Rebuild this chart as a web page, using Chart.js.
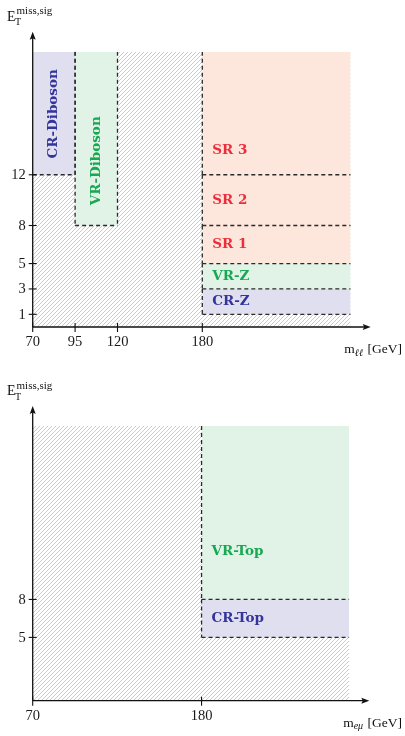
<!DOCTYPE html>
<html><head><meta charset="utf-8">
<script src="https://cdn.jsdelivr.net/npm/chart.js@4.4.0/dist/chart.umd.min.js"></script>
<style>html,body{margin:0;padding:0;background:#fff;width:405px;height:736px;overflow:hidden}canvas{display:block}</style>
</head><body>
<canvas id="c1" width="405" height="374"></canvas>
<canvas id="c2" width="405" height="362"></canvas>
<script>
// ================= DATA =================
const X_MIN = 70;        // start of the mass axis [GeV]
const X_OPEN = 285;      // open-ended right edge of the regions
const Y_OPEN = 21.7;     // open-ended top of the regions

// Panel 1: m_ll vs E_T^miss,sig
const p1XTicks = [70, 95, 120, 180];
const p1YTicks = [1, 3, 5, 8, 12];
const p1Names  = ['CR-Diboson', 'VR-Diboson', 'CR-Z', 'VR-Z', 'SR 1', 'SR 2', 'SR 3'];
const p1Kind   = ['CR', 'VR', 'CR', 'VR', 'SR', 'SR', 'SR'];
const p1XLow   = [70, 95, 180, 180, 180, 180, 180];
const p1XHigh  = [95, 120, X_OPEN, X_OPEN, X_OPEN, X_OPEN, X_OPEN];
const p1YLow   = [12, 8, 1, 3, 5, 8, 12];
const p1YHigh  = [Y_OPEN, Y_OPEN, 3, 5, 8, 12, Y_OPEN];

// Panel 2: m_emu vs E_T^miss,sig
const p2XTicks = [70, 180];
const p2YTicks = [5, 8];
const p2Names  = ['CR-Top', 'VR-Top'];
const p2Kind   = ['CR', 'VR'];
const p2XLow   = [180, 180];
const p2XHigh  = [X_OPEN, X_OPEN];
const p2YLow   = [5, 8];
const p2YHigh  = [8, Y_OPEN];

// ================= LAYOUT / STYLE =================
// label anchors (y value, vertical text?)
const p1LabelY = [16.8, 13.1, 2, 4, 6.5, 10, 13.9];
const p1LabelV = [true, true, false, false, false, false, false];
const p2LabelY = [6.5, 11.8];
const p2LabelV = [false, false];

// schematic (not-to-scale) mass axis: breakpoint values -> axis units
const AXIS_BREAKS = [70, 95, 120, 180];
const AXIS_UNITS  = [0, 1, 2, 4];

const FILL = { CR: '#dfdff0', VR: '#e1f2e6', SR: '#fde6dc' };
const TEXT = { CR: '#34349a', VR: '#17a852', SR: '#ec2e3c' };
const SERIF = '"Liberation Serif", "DejaVu Serif", serif';
const BOLD_SERIF = '"DejaVu Serif", serif';

function toUnits(v) {
  const b = AXIS_BREAKS, u = AXIS_UNITS, n = b.length;
  let i = 0;
  if (v >= b[n - 1]) i = n - 2;
  else { while (i < n - 2 && v > b[i + 1]) i++; }
  return u[i] + (v - b[i]) * (u[i + 1] - u[i]) / (b[i + 1] - b[i]);
}
function fromUnits(t) {
  const b = AXIS_BREAKS, u = AXIS_UNITS, n = b.length;
  let i = 0;
  if (t >= u[n - 1]) i = n - 2;
  else { while (i < n - 2 && t > u[i + 1]) i++; }
  return b[i] + (t - u[i]) * (b[i + 1] - b[i]) / (u[i + 1] - u[i]);
}

class SchematicScale extends Chart.LinearScale {
  getPixelForValue(v) {
    const u0 = toUnits(this.min), u1 = toUnits(this.max);
    return this.getPixelForDecimal((toUnits(v) - u0) / (u1 - u0));
  }
  getValueForPixel(p) {
    const u0 = toUnits(this.min), u1 = toUnits(this.max);
    return fromUnits(u0 + this.getDecimalForPixel(p) * (u1 - u0));
  }
}
SchematicScale.id = 'schematic';
SchematicScale.defaults = Chart.LinearScale.defaults;
Chart.register(SchematicScale);

function makeHatch() {
  const c = document.createElement('canvas');
  c.width = 4; c.height = 4;
  const g = c.getContext('2d');
  g.fillStyle = '#ffffff'; g.fillRect(0, 0, 4, 4);
  g.strokeStyle = '#b4b4b4'; g.lineWidth = 0.7;
  g.beginPath();
  g.moveTo(-1, 5); g.lineTo(5, -1);
  g.moveTo(-1, 1); g.lineTo(1, -1);
  g.moveTo(3, 5); g.lineTo(5, 3);
  g.stroke();
  return g.createPattern(c, 'repeat');
}

function buildDatasets(P, hatch) {
  const ds = [];
  ds.push({ label: 'excluded', data: [{ x: X_MIN, y: Y_OPEN }, { x: X_OPEN, y: Y_OPEN }],
    fill: { value: 0 }, backgroundColor: hatch, borderColor: 'transparent', borderWidth: 0,
    pointRadius: 0, order: 3 });
  P.names.forEach((n, i) => {
    ds.push({ label: n, data: [{ x: P.xLow[i], y: P.yHigh[i] }, { x: P.xHigh[i], y: P.yHigh[i] }],
      fill: { value: P.yLow[i] }, backgroundColor: FILL[P.kind[i]], borderColor: 'transparent',
      borderWidth: 0, pointRadius: 0, order: 2 });
    const segs = [];
    if (P.xLow[i] > X_MIN) segs.push([[P.xLow[i], P.yHigh[i]], [P.xLow[i], P.yLow[i]]]);
    if (P.xHigh[i] < X_OPEN) segs.push([[P.xHigh[i], P.yHigh[i]], [P.xHigh[i], P.yLow[i]]]);
    if (P.yLow[i] > 0) segs.push([[P.xLow[i], P.yLow[i]], [P.xHigh[i], P.yLow[i]]]);
    segs.forEach(s => ds.push({ label: n + ' edge', data: s.map(p => ({ x: p[0], y: p[1] })),
      fill: false, borderColor: '#2a2a2a', borderWidth: 1.3, borderDash: [4, 3],
      pointRadius: 0, order: 1 }));
  });
  return ds;
}

function makeDecor(P) {
  return {
    id: 'decor',
    afterDatasetsDraw(chart) {
      const ctx = chart.ctx, a = chart.chartArea, xs = chart.scales.x, ys = chart.scales.y;
      ctx.save();
      // region labels
      P.names.forEach((n, i) => {
        ctx.fillStyle = TEXT[P.kind[i]];
        ctx.font = 'bold 13.5px ' + BOLD_SERIF;
        const y = ys.getPixelForValue(P.labelY[i]);
        if (P.labelV[i]) {
          const x = (xs.getPixelForValue(P.xLow[i]) + xs.getPixelForValue(P.xHigh[i])) / 2;
          ctx.save(); ctx.translate(x, y); ctx.rotate(-Math.PI / 2);
          ctx.textAlign = 'center'; ctx.textBaseline = 'middle';
          ctx.fillText(n, 0, 0); ctx.restore();
        } else {
          ctx.textAlign = 'left'; ctx.textBaseline = 'middle';
          ctx.fillText(n, xs.getPixelForValue(P.xLow[i]) + 10, y);
        }
      });
      // axes
      ctx.strokeStyle = '#111'; ctx.fillStyle = '#111'; ctx.lineWidth = 1.3; ctx.setLineDash([]);
      const L = a.left, B = a.bottom, R = a.right + 20, T = a.top - 20;
      ctx.beginPath(); ctx.moveTo(L, B); ctx.lineTo(R - 6, B); ctx.moveTo(L, B); ctx.lineTo(L, T + 6); ctx.stroke();
      ctx.beginPath(); ctx.moveTo(R, B); ctx.lineTo(R - 8, B - 3); ctx.lineTo(R - 6.5, B); ctx.lineTo(R - 8, B + 3); ctx.closePath(); ctx.fill();
      ctx.beginPath(); ctx.moveTo(L, T); ctx.lineTo(L - 3, T + 8); ctx.lineTo(L, T + 6.5); ctx.lineTo(L + 3, T + 8); ctx.closePath(); ctx.fill();
      // ticks
      ctx.lineWidth = 1.1;
      ctx.font = '14.5px ' + SERIF;
      ctx.fillStyle = '#1a1a1a';
      P.yTicks.forEach(v => {
        const y = ys.getPixelForValue(v);
        ctx.beginPath(); ctx.moveTo(L - 4, y); ctx.lineTo(L + 4, y); ctx.stroke();
        ctx.textAlign = 'right'; ctx.textBaseline = 'middle';
        ctx.fillText(String(v), L - 7, y + 0.5);
      });
      P.xTicks.forEach(v => {
        const x = xs.getPixelForValue(v);
        ctx.beginPath(); ctx.moveTo(x, B - 4); ctx.lineTo(x, B + 5); ctx.stroke();
        ctx.textAlign = 'center'; ctx.textBaseline = 'middle';
        ctx.fillText(String(v), x, B + 15);
      });
      // y title: E_T^{miss,sig}
      ctx.textAlign = 'left'; ctx.textBaseline = 'alphabetic'; ctx.fillStyle = '#111';
      const ty = a.top - 31;
      ctx.font = '14px ' + SERIF; ctx.fillText('E', 7, ty);
      const ew = ctx.measureText('E').width;
      ctx.font = '10px ' + SERIF; ctx.fillText('T', 7 + ew - 0.5, ty + 4.5);
      ctx.font = '11px ' + SERIF; ctx.fillText('miss,sig', 7 + ew + 1, ty - 6.5);
      // x title: m_sub [GeV]
      const bx = B + 26;
      ctx.font = '13.5px ' + SERIF; const mw = ctx.measureText('m').width;
      const gw = ctx.measureText(' [GeV]').width;
      ctx.font = 'italic 10px ' + SERIF; const sw = ctx.measureText(P.xSub).width;
      let x0 = 402 - (mw + sw + gw + 1);
      ctx.font = '13.5px ' + SERIF; ctx.fillText('m', x0, bx);
      ctx.font = 'italic 10px ' + SERIF; ctx.fillText(P.xSub, x0 + mw, bx + 2.5);
      ctx.font = '13.5px ' + SERIF; ctx.fillText(' [GeV]', x0 + mw + sw + 1, bx);
      ctx.restore();
    }
  };
}

function makeChart(id, P) {
  const hatch = makeHatch();
  return new Chart(document.getElementById(id), {
    type: 'line',
    data: { datasets: buildDatasets(P, hatch) },
    options: {
      responsive: false, animation: false, devicePixelRatio: 1,
      layout: { padding: P.padding },
      plugins: { legend: { display: false }, tooltip: { enabled: false }, filler: { propagate: false } },
      elements: { line: { tension: 0 } },
      scales: {
        x: { type: 'schematic', min: X_MIN, max: X_OPEN, display: false },
        y: { type: 'linear', min: 0, max: Y_OPEN, display: false }
      }
    },
    plugins: [makeDecor(P)]
  });
}

makeChart('c1', {
  names: p1Names, kind: p1Kind, xLow: p1XLow, xHigh: p1XHigh, yLow: p1YLow, yHigh: p1YHigh,
  xTicks: p1XTicks, yTicks: p1YTicks, labelY: p1LabelY, labelV: p1LabelV, xSub: 'ℓℓ',
  padding: { left: 32.7, right: 54.3, top: 51.7, bottom: 47 }
});
makeChart('c2', {
  names: p2Names, kind: p2Kind, xLow: p2XLow, xHigh: p2XHigh, yLow: p2YLow, yHigh: p2YHigh,
  xTicks: p2XTicks, yTicks: p2YTicks, labelY: p2LabelY, labelV: p2LabelV, xSub: 'eμ',
  padding: { left: 32.7, right: 55.7, top: 52, bottom: 35.3 }
});
</script>
</body></html>
